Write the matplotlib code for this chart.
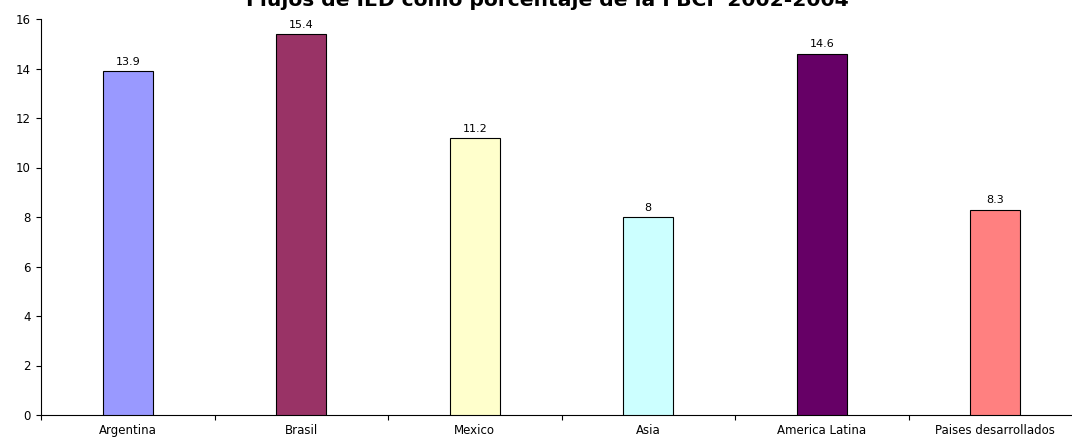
import matplotlib
import matplotlib.pyplot as plt
import numpy as np

matplotlib.use('Agg')

categories = ['Argentina', 'Brasil', 'Mexico', 'Asia', 'America Latina', 'Paises desarrollados']
values = [13.9, 15.4, 11.2, 8, 14.6, 8.3]
labels = ['13.9', '15.4', '11.2', '8', '14.6', '8.3']
colors = ['#9999FF', '#993366', '#FFFFCC', '#CCFFFF', '#660066', '#FF8080']
title = 'Flujos de IED como porcentaje de la FBCF 2002-2004'

plt.rcParams['font.family'] = ['DejaVu Sans']

W, H = 1072, 437
fig = plt.figure(figsize=(W / 100, H / 100), dpi=100)
# the plot area runs past the right edge of the picture, like the reference
ax = fig.add_axes([41 / W, 22 / H, 1041 / W, 396 / H])

x = np.arange(len(categories))
ax.bar(x, values, width=0.29, color=colors, edgecolor='black', linewidth=0.8, zorder=3)
for xi, v, lab in zip(x, values, labels):
    ax.annotate(lab, (xi, v), xytext=(0, 3), textcoords='offset points',
                ha='center', va='bottom', fontsize=8)

ax.set_xlim(-0.5, len(categories) - 0.5)
ax.set_ylim(0, 16)
ax.set_yticks(range(0, 17, 2))
ax.set_xticks(x)
ax.set_xticklabels(categories, fontsize=8.5)
ax.set_xticks(np.arange(-0.5, len(categories), 1), minor=True)
ax.tick_params(axis='x', which='major', length=0, pad=6.5)
ax.tick_params(axis='x', which='minor', length=3.5, direction='out', width=0.8)
ax.tick_params(axis='y', labelsize=8.5, length=3.6, width=0.8, direction='out', pad=3.6)
ax.spines['top'].set_visible(False)
ax.spines['right'].set_visible(False)
ax.spines['left'].set_linewidth(0.8)
ax.spines['bottom'].set_linewidth(0.8)

fig.text(547 / W, 1 - 6 / H, title, ha='center', va='baseline', fontsize=14.6, fontweight='bold')

plt.savefig('out.png', dpi=100)
